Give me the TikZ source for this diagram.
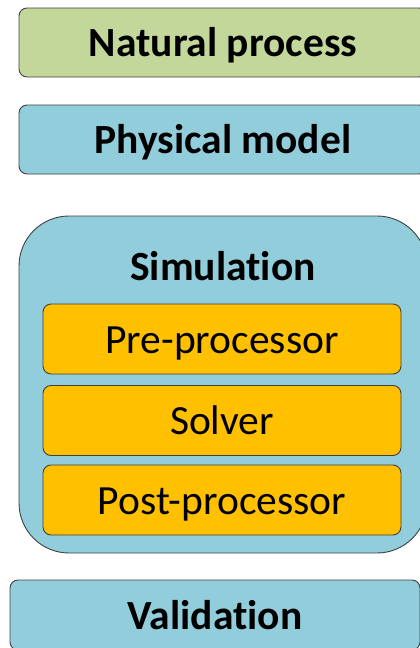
\documentclass[tikz,border=0pt]{standalone}
\usepackage{fontspec}
\setmainfont{Carlito}[Ligatures=NoCommon]
\definecolor{natgreen}{RGB}{196,215,155}
\definecolor{simblue}{RGB}{146,205,220}
\definecolor{steporange}{RGB}{255,192,0}
\definecolor{edgegray}{RGB}{64,64,64}
\begin{document}
\begin{tikzpicture}[x=1pt,y=-1pt,
  box/.style={draw=edgegray, line width=0.9pt, rounded corners=8pt, inner sep=0pt,
    font=\fontsize{41.5}{48}\selectfont, text height=28pt, text depth=0pt},
  mainbox/.style={box, font=\fontsize{41.5}{48}\selectfont\bfseries},
  subbox/.style={box, fill=steporange, minimum width=358pt, minimum height=70pt}]
\useasboundingbox (0,0) rectangle (420,648);
\node[mainbox, fill=natgreen, minimum width=408pt, minimum height=69pt] (nat) at (223,42.5) {Natural process};
\node[mainbox, fill=simblue, minimum width=408pt, minimum height=69pt] (phys) at (223,139.5) {Physical model};
\node[draw=edgegray, line width=0.9pt, fill=simblue, rounded corners=50pt, minimum width=408pt, minimum height=337pt, inner sep=0pt] (sim) at (223,384.5) {};
\node[anchor=base, inner sep=0pt, font=\fontsize{41.5}{48}\selectfont\bfseries] (simlabel) at (223,280) {Simulation};
\node[subbox] (pre) at (222,339) {Pre-processor};
\node[subbox] (solver) at (222,420.5) {Solver};
\node[subbox] (post) at (222,500) {Post-processor};
\node[mainbox, fill=simblue, minimum width=410pt, minimum height=70pt] (val) at (215,615) {Validation};
\end{tikzpicture}
\end{document}
